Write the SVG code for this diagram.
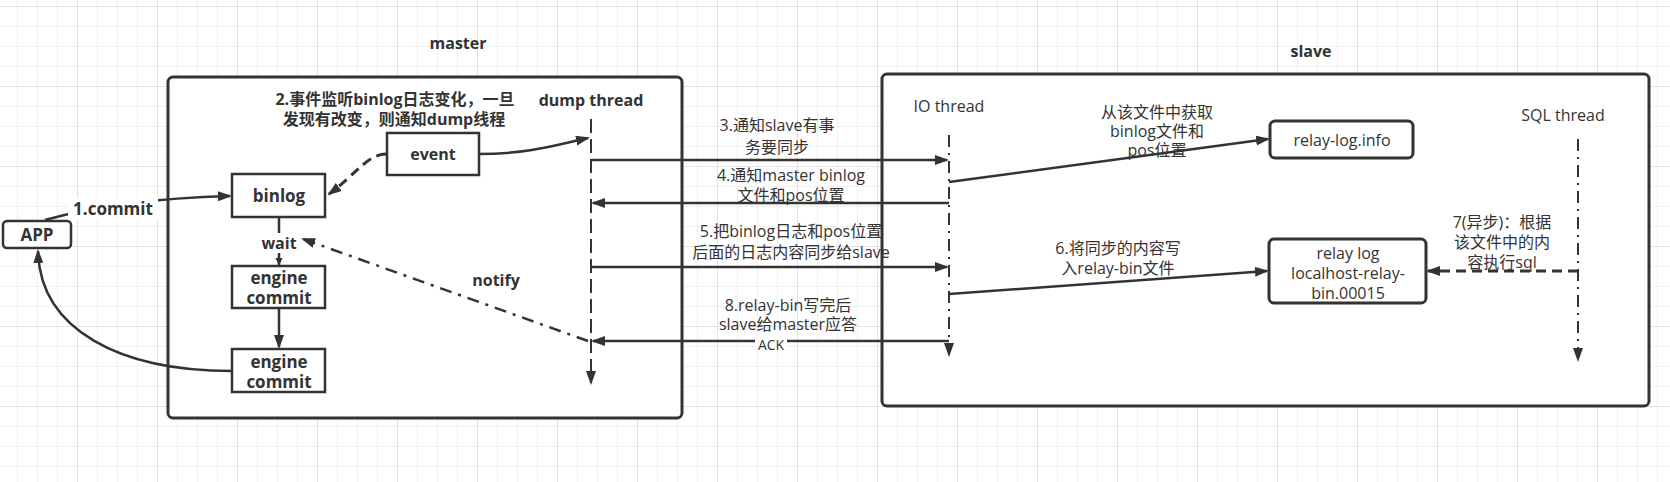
<svg xmlns="http://www.w3.org/2000/svg" width="1670" height="482" viewBox="0 0 1670 482">
<defs>
<pattern id="grid" patternUnits="userSpaceOnUse" x="77" y="6" width="80" height="80">
<rect x="0" y="0" width="80" height="80" fill="#ffffff"/>
<rect x="20" y="0" width="1" height="80" fill="#f0f0f0"/>
<rect x="40" y="0" width="1" height="80" fill="#f0f0f0"/>
<rect x="60" y="0" width="1" height="80" fill="#f0f0f0"/>
<rect x="0" y="20" width="80" height="1" fill="#f0f0f0"/>
<rect x="0" y="40" width="80" height="1" fill="#f0f0f0"/>
<rect x="0" y="60" width="80" height="1" fill="#f0f0f0"/>
<rect x="0" y="0" width="1" height="80" fill="#e2e2e2"/>
<rect x="0" y="0" width="80" height="1" fill="#e2e2e2"/>
</pattern>
<marker id="arr" markerUnits="userSpaceOnUse" markerWidth="16" markerHeight="12" refX="12" refY="5" orient="auto">
<path d="M0,0 L14,5 L0,10 Z" fill="#333333"/>
</marker>
<marker id="arrs" markerUnits="userSpaceOnUse" markerWidth="10" markerHeight="8" refX="7" refY="3.5" orient="auto">
<path d="M0,0 L8,3.5 L0,7 Z" fill="#333333"/>
</marker>
</defs>
<style>
.cont{fill:#ffffff;stroke:#333333;stroke-width:3}
.box{fill:#ffffff;stroke:#333333;stroke-width:2.5}
.rbox{fill:#ffffff;stroke:#333333;stroke-width:3}
.ln{fill:none;stroke:#333333;stroke-width:2.5}
.dash{fill:none;stroke:#333333;stroke-width:3;stroke-dasharray:10 6}
.life{fill:none;stroke:#333333;stroke-width:2;stroke-dasharray:14 6}
.dd{fill:none;stroke:#333333;stroke-width:2;stroke-dasharray:12 6 2 6}
.notify{fill:none;stroke:#333333;stroke-width:2.5;stroke-dasharray:12 7 3 7}
text{font-family:"Open Sans","Noto Sans CJK SC",sans-serif;fill:#333333;text-anchor:middle}
.b{font-weight:bold;font-size:16px}
.b17{font-weight:bold;font-size:17px}
.n{font-size:16px}
.s{font-size:14px}
</style>
<rect x="0" y="0" width="1670" height="482" fill="url(#grid)"/>

<g id="master">
<rect class="cont" x="168" y="77" width="514" height="341" rx="5"/>
<text class="b" x="458" y="49">master</text>
<text class="b" x="395" y="105">2.事件监听binlog日志变化，一旦</text>
<text class="b" x="394" y="125">发现有改变，则通知dump线程</text>
<text class="b" x="591" y="106">dump thread</text>
</g>
<g id="slave">
<rect class="cont" x="882" y="74" width="767" height="332" rx="5"/>
<text class="b" x="1311" y="57">slave</text>
<text class="n" x="949" y="112">IO thread</text>
<text class="n" x="1563" y="121">SQL thread</text>
</g>
<g id="app">
<rect class="box" x="3" y="221" width="68" height="27" rx="4"/>
<text class="b17" x="37" y="241">APP</text>
</g>
<g id="binlog">
<rect class="box" x="232" y="174" width="93" height="43"/>
<text class="b17" x="279" y="202">binlog</text>
</g>
<g id="engine1">
<rect class="box" x="232" y="266" width="93" height="42"/>
<text class="b17" x="279" y="284">engine</text>
<text class="b17" x="279" y="304">commit</text>
</g>
<g id="engine2">
<rect class="box" x="232" y="349" width="93" height="43"/>
<text class="b17" x="279" y="368">engine</text>
<text class="b17" x="279" y="388">commit</text>
</g>
<g id="event">
<rect class="box" x="387" y="133" width="92" height="42"/>
<text class="b" x="433" y="160">event</text>
</g>
<g id="relayinfo">
<rect class="rbox" x="1270" y="121" width="143" height="37" rx="5"/>
<text class="n" x="1342" y="146">relay-log.info</text>
</g>
<g id="relaylog">
<rect class="rbox" x="1269" y="239" width="157" height="64" rx="5"/>
<text class="n" x="1348" y="259">relay log</text>
<text class="n" x="1348" y="279">localhost-relay-</text>
<text class="n" x="1348" y="299">bin.00015</text>
</g>

<g id="connectors">
<path class="life" d="M591,119 L591,383" marker-end="url(#arr)"/>
<path class="dd" d="M949,135 L949,355" marker-end="url(#arr)"/>
<path class="dd" d="M1578,139 L1578,360" marker-end="url(#arr)"/>
<path class="ln" d="M45,220 Q120,199 230,196" marker-end="url(#arr)"/>
<rect x="68" y="198" width="90" height="22" fill="#ffffff"/>
<text class="b17" x="113" y="215">1.commit</text>
<path class="ln" d="M232,371 C120,371 40,330 38,251" marker-end="url(#arr)"/>
<path class="ln" d="M279,217 L279,265" marker-end="url(#arrs)"/>
<rect x="262" y="233" width="34" height="20" fill="#ffffff"/>
<text class="b" x="279" y="249">wait</text>
<path class="ln" d="M279,308 L279,347" marker-end="url(#arr)"/>
<path class="dash" d="M386,154 C368,154 355,175 329,194" marker-end="url(#arr)"/>
<path class="ln" d="M479,154 C530,154 560,144 588,138" marker-end="url(#arr)"/>
<path class="notify" d="M588,341 L303,239" marker-end="url(#arr)"/>
<text class="b" x="496" y="286">notify</text>
<path class="ln" d="M591,160 L947,160" marker-end="url(#arr)"/>
<text class="n" x="777" y="131">3.通知slave有事</text>
<text class="n" x="777" y="153">务要同步</text>
<path class="ln" d="M949,203 L593,203" marker-end="url(#arr)"/>
<text class="n" x="791" y="181">4.通知master binlog</text>
<text class="n" x="791" y="201">文件和pos位置</text>
<path class="ln" d="M591,267 L947,267" marker-end="url(#arr)"/>
<text class="n" x="791" y="237">5.把binlog日志和pos位置</text>
<text class="n" x="791" y="258">后面的日志内容同步给slave</text>
<path class="ln" d="M949,341 L593,341" marker-end="url(#arr)"/>
<text class="n" x="788" y="311">8.relay-bin写完后</text>
<text class="n" x="788" y="330">slave给master应答</text>
<rect x="755" y="335" width="32" height="16" fill="#ffffff"/>
<text class="s" x="771" y="350">ACK</text>
<path class="ln" d="M949,182 L1268,139" marker-end="url(#arr)"/>
<text class="n" x="1157" y="118">从该文件中获取</text>
<text class="n" x="1157" y="137">binlog文件和</text>
<text class="n" x="1157" y="156">pos位置</text>
<path class="ln" d="M949,294 L1267,271" marker-end="url(#arr)"/>
<text class="n" x="1118" y="254">6.将同步的内容写</text>
<text class="n" x="1118" y="274">入relay-bin文件</text>
<path class="dash" d="M1578,271 L1428,271" marker-end="url(#arr)"/>
<text class="n" x="1502" y="228">7(异步)：根据</text>
<text class="n" x="1502" y="248">该文件中的内</text>
<text class="n" x="1502" y="268">容执行sql</text>
</g>
</svg>
